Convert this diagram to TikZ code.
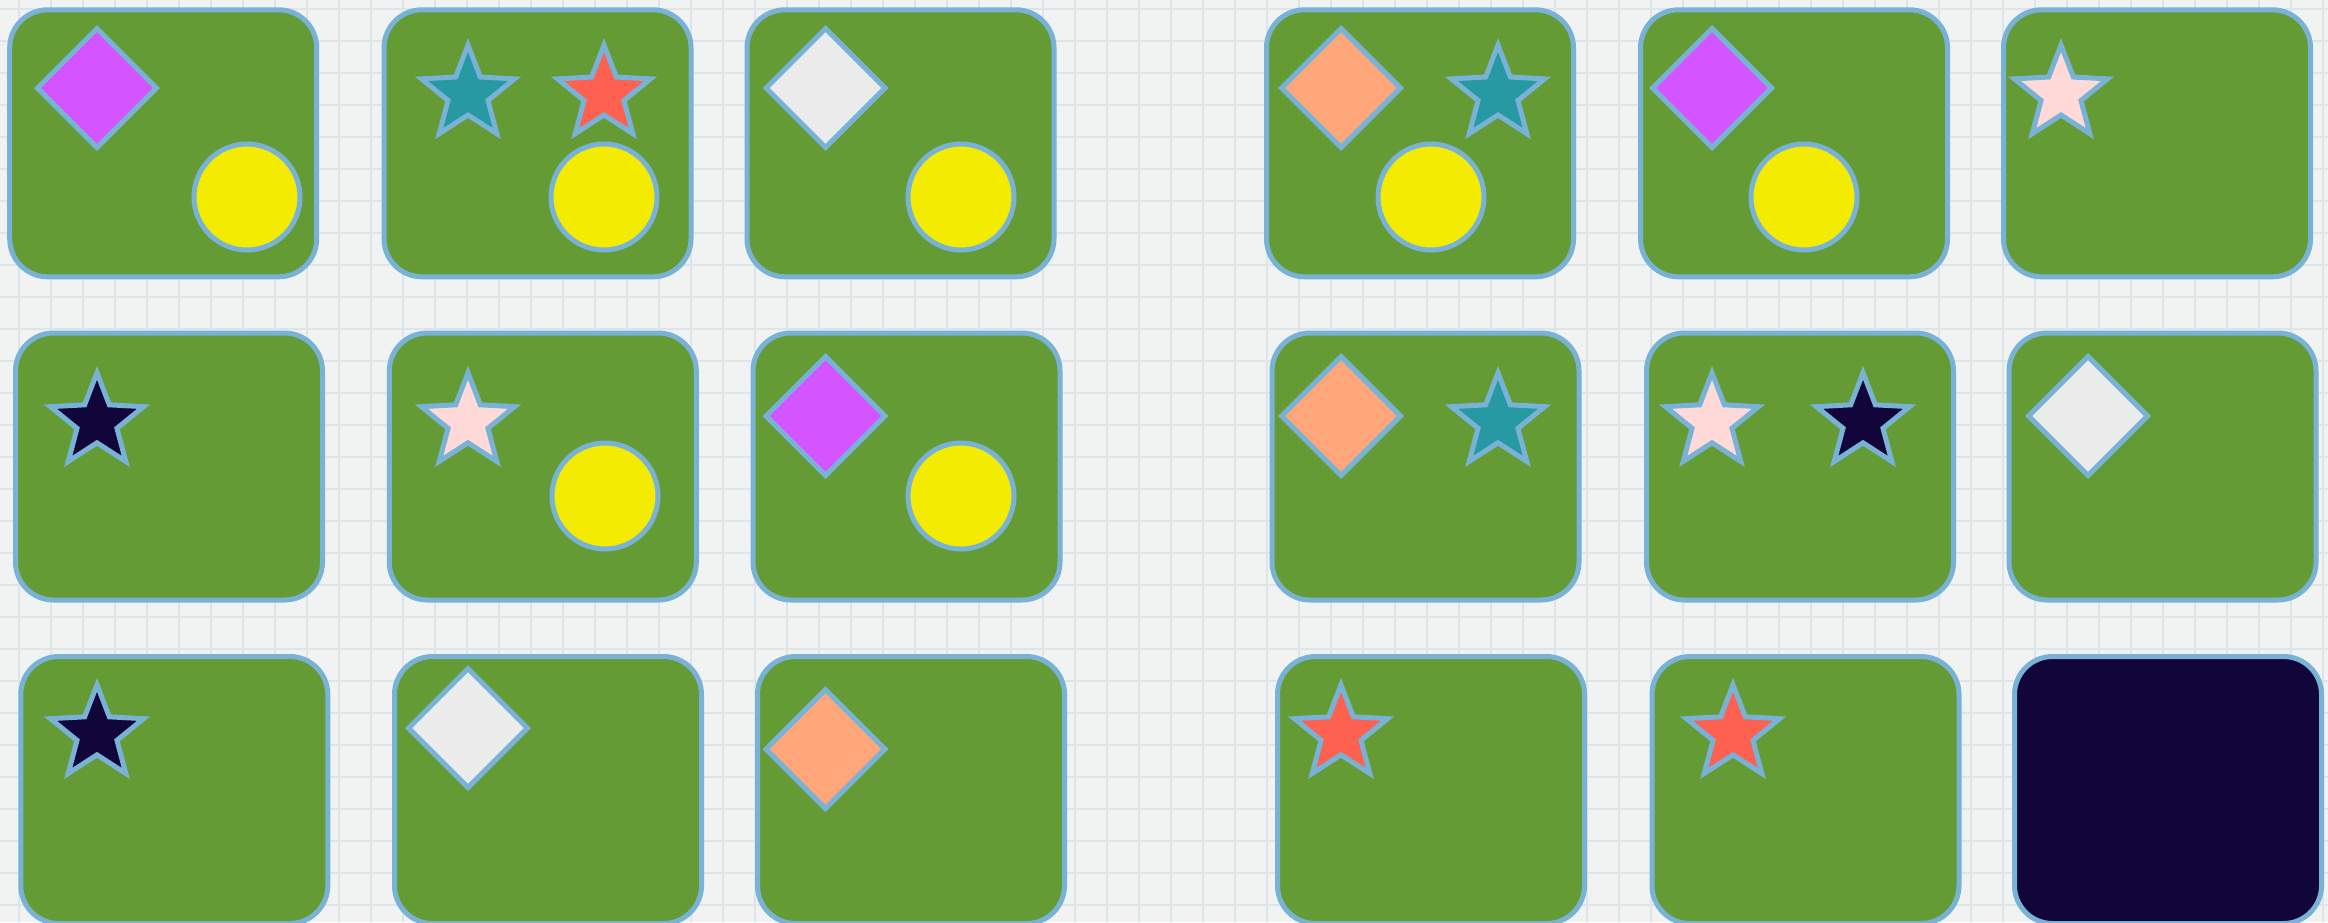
\documentclass[tikz,border=0pt]{standalone}
\usetikzlibrary{shapes.geometric}
\definecolor{bgc}{HTML}{F1F2F2}
\definecolor{gridc}{HTML}{DDE5E9}
\definecolor{cardgreen}{HTML}{659B34}
\definecolor{edgeblue}{HTML}{78B2D6}
\definecolor{cpurple}{HTML}{D455FF}
\definecolor{cyellow}{HTML}{F4EC00}
\definecolor{cteal}{HTML}{2699A3}
\definecolor{cred}{HTML}{FF6150}
\definecolor{corange}{HTML}{FFA67A}
\definecolor{cwhite}{HTML}{EBEBEB}
\definecolor{cpink}{HTML}{FFDAD8}
\definecolor{cdark}{HTML}{12053A}
\tikzset{
  gridline/.style={draw=gridc, line width=1.3pt},
  card/.style={shape=rectangle, draw=edgeblue, line width=5pt, fill=cardgreen,
    rounded corners=38pt, minimum width=307pt, minimum height=267pt, inner sep=0pt},
  dia/.style={shape=diamond, aspect=1, draw=edgeblue, line width=5pt,
    minimum width=121pt, minimum height=121pt, inner sep=0pt},
  circ/.style={shape=circle, draw=edgeblue, line width=5pt, minimum size=106pt, inner sep=0pt, fill=cyellow},
  starline/.style={draw=edgeblue, line width=5pt, line join=miter},
}
\newcommand{\starat}[3]{%
  \coordinate (#1) at (#2);
  \begin{scope}[shift={(#1)}]
    \draw[starline, fill=#3] (-90:49) -- (-54:21) -- (-18:49) -- (18:21) -- (54:49) -- (90:21)
      -- (126:49) -- (162:21) -- (198:49) -- (234:21) -- cycle;
  \end{scope}}
\begin{document}
\begin{tikzpicture}[x=1pt,y=-1pt]
\useasboundingbox (0,0) rectangle (2328,922);
\clip (0,0) rectangle (2328,922);
\fill[bgc] (0,0) rectangle (2328,922);
\foreach \i in {0,...,72} { \draw[gridline] ({19+32*\i},0) -- ++(0,922); }
\foreach \j in {0,...,29} { \draw[gridline] (0,{9+32*\j}) -- ++(2328,0); }

% Row 1 cards
\node[card] (r1c1) at (163.2,143.3) {};
\node[card] (r1c2) at (537.5,143.3) {};
\node[card] (r1c3) at (900.5,143.3) {};
\node[card] (r1c4) at (1420,143.3) {};
\node[card] (r1c5) at (1794,143.3) {};
\node[card] (r1c6) at (2157,143.3) {};
% Row 2 cards
\node[card] (r2c1) at (169,466.5) {};
\node[card] (r2c2) at (542.8,466.5) {};
\node[card] (r2c3) at (906.5,466.5) {};
\node[card] (r2c4) at (1425.5,466.5) {};
\node[card] (r2c5) at (1800,466.5) {};
\node[card] (r2c6) at (2162.5,466.5) {};
% Row 3 cards
\node[card] (r3c1) at (174.3,790) {};
\node[card] (r3c2) at (548,790) {};
\node[card] (r3c3) at (911,790) {};
\node[card] (r3c4) at (1431,790) {};
\node[card] (r3c5) at (1805.5,790) {};
\node[card, fill=cdark] (r3c6) at (2168,790) {};

% Row 1 shapes
\node[dia, fill=cpurple] (d11) at (97,88) {};
\node[circ] (o11) at (247,197) {};
\starat{s12a}{468,94}{cteal}
\starat{s12b}{604,94}{cred}
\node[circ] (o12) at (604,197) {};
\node[dia, fill=cwhite] (d13) at (825.5,88) {};
\node[circ] (o13) at (961,197) {};
\node[dia, fill=corange] (d14) at (1341,88) {};
\starat{s14}{1498,94}{cteal}
\node[circ] (o14) at (1431,197) {};
\node[dia, fill=cpurple] (d15) at (1712,88) {};
\node[circ] (o15) at (1804,197) {};
\starat{s16}{2061,94}{cpink}

% Row 2 shapes
\starat{s21}{97,421.8}{cdark}
\starat{s22}{468,421.8}{cpink}
\node[circ] (o22) at (605,496) {};
\node[dia, fill=cpurple] (d23) at (825.5,416) {};
\node[circ] (o23) at (961,496) {};
\node[dia, fill=corange] (d24) at (1341,416) {};
\starat{s24}{1498,421.8}{cteal}
\starat{s25a}{1712,421.8}{cpink}
\starat{s25b}{1863,421.8}{cdark}
\node[dia, fill=cwhite] (d26) at (2088,416) {};

% Row 3 shapes
\starat{s31}{97,733.8}{cdark}
\node[dia, fill=cwhite] (d32) at (468,728) {};
\node[dia, fill=corange] (d33) at (825.5,749) {};
\starat{s34}{1341,733.8}{cred}
\starat{s35}{1733,733.8}{cred}
\end{tikzpicture}
\end{document}
